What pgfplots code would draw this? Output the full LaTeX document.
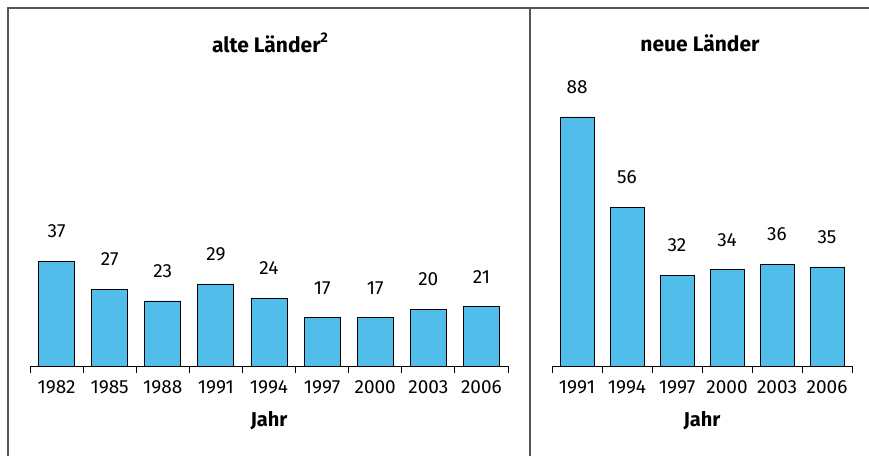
\documentclass[border=0pt]{standalone}
\usepackage{fontspec}
\setmainfont{Fira Sans}
\usepackage{pgfplots}
\pgfplotsset{compat=1.18}
\definecolor{barblue}{RGB}{80,189,235}
\definecolor{framegray}{RGB}{85,85,85}

\pgfplotsset{
  panel/.style={
    scale only axis,
    anchor=south west,
    height=283pt,
    ymin=0, ymax=100,
    axis x line=bottom,
    axis y line=none,
    axis line style={-, black, line width=0.9pt},
    ybar,
    tick pos=bottom,
    tick align=outside,
    major tick length=0pt,
    minor tick length=7pt,
    minor tick style={black, line width=0.9pt},
    xtick=data,
    xticklabel style={anchor=center, yshift=-21pt, font=\fontsize{19}{22}\selectfont},
    /pgf/number format/assume math mode=true,
    nodes near coords,
    every node near coord/.append style={anchor=center, yshift=30pt, font=\fontsize{19}{22}\selectfont},
  },
}

\begin{document}
\begin{tikzpicture}
\path[use as bounding box] (0pt,0pt) rectangle (869pt,456pt);
\draw[framegray, line width=1.3pt] (8pt,0pt) -- (8pt,448pt) -- (869pt,448pt);
\draw[framegray, line width=1.3pt] (530pt,0pt) -- (530pt,448pt);

% alte Laender
\begin{axis}[panel,
    at={(30pt,90pt)},
    width=478pt,
    xmin=-0.5, xmax=8.5,
    minor xtick={-0.5,0.5,...,8.5},
    xticklabels={1982,1985,1988,1991,1994,1997,2000,2003,2006},
    bar width=36pt,
]
\addplot[fill=barblue, draw=black, line width=0.8pt] coordinates {
    (0,37) (1,27) (2,23) (3,29) (4,24) (5,17) (6,17) (7,20) (8,21)
};
\end{axis}

% neue Laender
\begin{axis}[panel,
    at={(552pt,90pt)},
    width=300pt,
    xmin=-0.5, xmax=5.5,
    minor xtick={-0.5,0.5,...,5.5},
    xticklabels={1991,1994,1997,2000,2003,2006},
    bar width=34pt,
]
\addplot[fill=barblue, draw=black, line width=0.8pt] coordinates {
    (0,88) (1,56) (2,32) (3,34) (4,36) (5,35)
};
\end{axis}

\node[font=\fontsize{21}{24}\selectfont\bfseries] at (270pt,413pt) {alte Länder\raisebox{0.45em}{\fontsize{14}{16}\selectfont 2}};
\node[font=\fontsize{21}{24}\selectfont\bfseries] at (700pt,413pt) {neue Länder};
\node[font=\fontsize{20}{23}\selectfont\bfseries] at (269pt,35pt) {Jahr};
\node[font=\fontsize{20}{23}\selectfont\bfseries] at (702pt,35pt) {Jahr};
\end{tikzpicture}
\end{document}
